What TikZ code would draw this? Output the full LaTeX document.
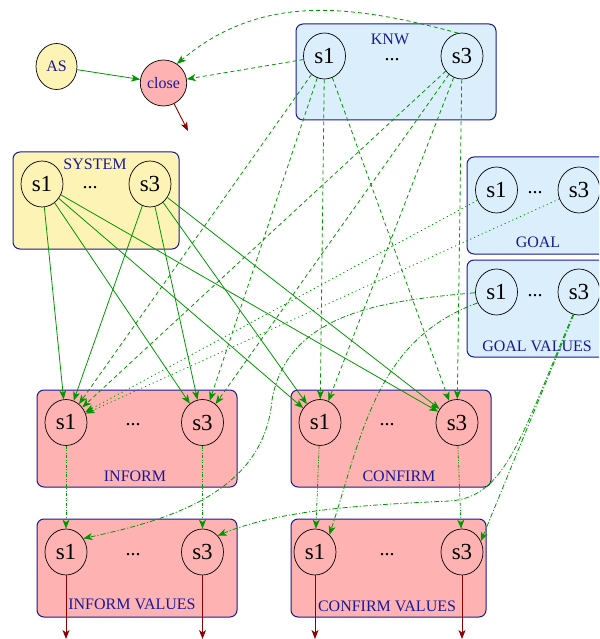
\documentclass[tikz,border=0pt]{standalone}
\usepackage{fontspec}
\setmainfont{Liberation Serif}
\usetikzlibrary{shapes.geometric,arrows.meta}
\definecolor{yfill}{RGB}{253,243,180}
\definecolor{bfill}{RGB}{218,238,252}
\definecolor{pfill}{RGB}{255,178,178}
\definecolor{navy}{RGB}{25,25,150}
\definecolor{egreen}{RGB}{0,150,0}
\definecolor{dred}{RGB}{140,0,0}
\begin{document}
\begin{tikzpicture}[x=1pt,y=-1pt,
  st/.style={ellipse,draw=black,line width=0.7pt,minimum width=42pt,minimum height=46pt,inner sep=0pt,font=\fontsize{23}{23}\selectfont},
  sm/.style={ellipse,draw=black,line width=0.7pt,minimum width=41pt,minimum height=46pt,inner sep=0pt,font=\fontsize{16}{16}\selectfont,text=navy},
  grp/.style={draw=navy,line width=1pt,rounded corners=7pt},
  lbl/.style={text=navy,font=\fontsize{16}{16}\selectfont,inner sep=0pt},
  dts/.style={font=\fontsize{20}{20}\selectfont,inner sep=0pt},
  arr/.style={-{Stealth[length=9pt,width=7pt,inset=2.5pt]},line width=0.8pt,color=egreen},
  dsh/.style={arr,dash pattern=on 4pt off 3pt},
  dtt/.style={arr,dash pattern=on 1.2pt off 3pt},
  dd/.style={arr,dash pattern=on 5pt off 2pt on 1.2pt off 2pt},
  ddd/.style={arr,dash pattern=on 3pt off 1.5pt on 1pt off 1.5pt on 1pt off 1.5pt},
  outarr/.style={-{Stealth[length=9pt,width=7pt,inset=2.5pt]},line width=0.9pt,color=dred}
]
\useasboundingbox (0,0) rectangle (599,639);
\clip (0,0) rectangle (599,639);
% group boxes
\path[grp,fill=bfill] (296,24) rectangle (496,120);
\path[grp,fill=yfill] (13,152) rectangle (179,249);
\path[grp,fill=bfill] (467,157) rectangle (640,254);
\path[grp,fill=bfill] (467,260) rectangle (640,357);
\path[grp,fill=pfill] (37,390) rectangle (237,487);
\path[grp,fill=pfill] (291,390) rectangle (491,487);
\path[grp,fill=pfill] (37,519) rectangle (237,617);
\path[grp,fill=pfill] (291,519) rectangle (486,617);
% labels
\node[lbl] (lknw) at (390,39) {KNW};
\node[lbl] (lsys) at (95,164) {SYSTEM};
\node[lbl] (lgoal) at (538,242.5) {GOAL};
\node[lbl] (lgv) at (537,346) {GOAL VALUES};
\node[lbl] (linf) at (135,476) {INFORM};
\node[lbl] (lconf) at (399,476) {CONFIRM};
\node[lbl] (liv) at (132,604.5) {INFORM VALUES};
\node[lbl] (lcv) at (387,606) {CONFIRM VALUES};
% dots
\node[dts] (dknw) at (392,60) {...};
\node[dts] (dsys) at (90,188) {...};
\node[dts] (dgoal) at (535,193) {...};
\node[dts] (dgv) at (535,296) {...};
\node[dts] (dinf) at (133,425) {...};
\node[dts] (dconf) at (387,425) {...};
\node[dts] (div) at (133,555) {...};
\node[dts] (dcv) at (387,555) {...};
% state nodes
\node[sm,fill=yfill] (as) at (56.5,66.5) {AS};
\node[sm,fill=pfill] (close) at (163.5,83) {close};
\node[st] (knw1) at (324.5,56) {s1};
\node[st] (knw3) at (462,56) {s3};
\node[st] (sys1) at (42,184) {s1};
\node[st] (sys3) at (150,184) {s3};
\node[st] (goal1) at (496.5,190) {s1};
\node[st] (goal3) at (579,190) {s3};
\node[st] (gv1) at (496.5,292) {s1};
\node[st] (gv3) at (579,292) {s3};
\node[st] (inf1) at (66,422.5) {s1};
\node[st] (inf3) at (202.5,422.5) {s3};
\node[st] (conf1) at (320,422.5) {s1};
\node[st] (conf3) at (457,422.5) {s3};
\node[st] (iv1) at (66,552) {s1};
\node[st] (iv3) at (202.5,552) {s3};
\node[st] (cv1) at (315,552) {s1};
\node[st] (cv3) at (462,552) {s3};
\coordinate (oclose) at (188,131);
\coordinate (oiv1) at (66,639);
\coordinate (oiv3) at (202.5,639);
\coordinate (ocv1) at (315,639);
\coordinate (ocv3) at (462,639);
% solid
\draw[arr] (as) -- (close);
\foreach \s in {sys1,sys3}{
  \foreach \t in {inf1,inf3,conf1,conf3}{
    \draw[arr] (\s) -- (\t);
  }
}
% dashed from KNW
\draw[dsh] (knw1) -- (close);
\draw[dsh] (knw3.100) to[out=165,in=40] (close.55);
\foreach \s in {knw1,knw3}{
  \foreach \t in {inf1,inf3,conf1,conf3}{
    \draw[dsh] (\s) -- (\t);
  }
}
% dotted from GOAL
\draw[dtt] (goal1) -- (inf1);
\draw[dtt] (goal3) -- (inf1);
% dash-dot from GOAL VALUES
\draw[dd] (gv1.182) to[out=185,in=80] (272,400) to[out=-95,in=12] (iv1.38);
\draw[dd] (gv1.210) to[out=200,in=72] (cv1.50);
\draw[dd] (gv3.-105) .. controls (520,440) and (505,497) .. (450,501) .. controls (360,505) and (280,510) .. (iv3.47);
\draw[dd] (gv3.-103) -- (cv3.30);
% dash-dot-dot
\draw[ddd] (inf1) -- (iv1);
\draw[ddd] (inf3) -- (iv3);
\draw[ddd] (conf1) -- (cv1);
\draw[ddd] (conf3) -- (cv3);
% outputs
\draw[outarr] (close) -- (oclose);
\draw[outarr] (iv1) -- (oiv1);
\draw[outarr] (iv3) -- (oiv3);
\draw[outarr] (cv1) -- (ocv1);
\draw[outarr] (cv3) -- (ocv3);
\end{tikzpicture}
\end{document}
